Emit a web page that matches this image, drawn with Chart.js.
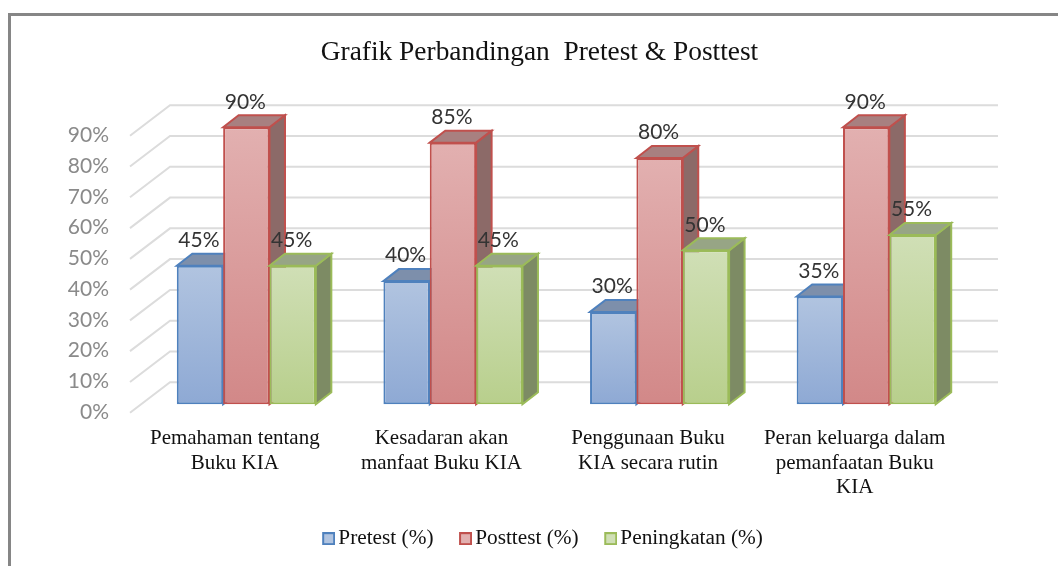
<!DOCTYPE html>
<html>
<head>
<meta charset="utf-8">
<title>Grafik Perbandingan Pretest & Posttest</title>
<script src="https://cdn.jsdelivr.net/npm/chart.js@4"></script>
<style>
    html, body { margin: 0; padding: 0; background: #fff; overflow: hidden; }
    #frame { position: absolute; left: 8px; top: 13px; width: 1100px; height: 600px; border: 3px solid #868686; }
    canvas { position: absolute; left: 0; top: 0; }
</style>
</head>
<body>
<div id="frame"></div>
<canvas id="chart" width="1058" height="566"></canvas>
<script>
const categories = [
    ['Pemahaman tentang', 'Buku KIA'],
    ['Kesadaran akan', 'manfaat Buku KIA'],
    ['Penggunaan Buku', 'KIA secara rutin'],
    ['Peran keluarga dalam', 'pemanfaatan Buku', 'KIA']
];
const pretest = [45, 40, 30, 35];
const posttest = [90, 85, 80, 90];
const peningkatan = [45, 45, 50, 55];

const seriesLabels = ['Pretest (%)', 'Posttest (%)', 'Peningkatan (%)'];
// front top, front bottom, border, top face, side face
const blue = ['#b1c4e0', '#8ea9d4', '#4f81bd', '#7d8fab', '#6a7d9a'];
const red = ['#e2b0b0', '#d28888', '#c0504d', '#a88080', '#8c6a68'];
const green = ['#d0dfb6', '#b8cf8c', '#9bbb59', '#97a585', '#7d8b64'];
const palettes = [blue, red, green];

const SERIF = '"Liberation Serif", serif';
const BAR_DX = 15.5, BAR_DY = -12;   // depth of a bar
const WALL_DX = 40, WALL_DY = -30.5; // depth of the floor/wall

function frontGradient(context, colors) {
    const y = context.chart.scales.y;
    const value = context.dataset.data[context.dataIndex];
    const top = y.getPixelForValue(value);
    const bottom = y.getPixelForValue(0);
    // the legend asks for a style before the scales are laid out
    if (!isFinite(top) || !isFinite(bottom)) return colors[0];
    const g = context.chart.ctx.createLinearGradient(0, top, 0, bottom);
    g.addColorStop(0, colors[0]);
    g.addColorStop(1, colors[1]);
    return g;
}

// 2px empty on the left so the box ends close to the legend text
function legendSwatch(colors) {
    const c = document.createElement('canvas');
    c.width = 15;
    c.height = 13;
    const x = c.getContext('2d');
    x.fillStyle = colors[2];
    x.fillRect(2, 0, 13, 13);
    x.fillStyle = colors[0];
    x.fillRect(4, 2, 9, 9);
    return c;
}
const swatches = palettes.map(legendSwatch);

function face(ctx, pts, fill, stroke) {
    ctx.beginPath();
    ctx.moveTo(pts[0][0], pts[0][1]);
    pts.slice(1).forEach(p => ctx.lineTo(p[0], p[1]));
    ctx.closePath();
    ctx.fillStyle = fill;
    ctx.fill();
    ctx.strokeStyle = stroke;
    ctx.lineWidth = 2;
    ctx.stroke();
}

// grid of the wall and the floor, drawn from the value axis
const wallGrid = {
    id: 'wallGrid',
    afterLayout(chart) {
        // title and legend are not centred on the plot in the original
        chart.titleBlock.left += 24.75;
        chart.titleBlock.right += 24.75;
        chart.legend.left += 30.5;
        chart.legend.right += 30.5;
        chart.legend.top = 497;
    },
    beforeDatasetsDraw(chart) {
        const ctx = chart.ctx;
        const y = chart.scales.y;
        const left = 130;
        const right = 998;
        ctx.save();
        ctx.strokeStyle = '#dcdcdc';
        ctx.lineWidth = 2;
        y.ticks.forEach(t => {
            const py = y.getPixelForValue(t.value);
            ctx.beginPath();
            ctx.moveTo(left, py + 8.5);
            ctx.lineTo(left + WALL_DX, py + 8.5 + WALL_DY);
            ctx.lineTo(right, py + 8.5 + WALL_DY);
            ctx.stroke();
        });
        // boxes go left to right inside a group, so each front covers the previous side
        chart.data.datasets.forEach((ds, i) => {
            const colors = palettes[i];
            chart.getDatasetMeta(i).data.forEach(bar => {
                const p = bar.getProps(['x', 'y', 'base', 'width']);
                const l = p.x - p.width / 2, r = p.x + p.width / 2;
                face(ctx, [[r, p.y], [r + BAR_DX, p.y + BAR_DY], [r + BAR_DX, p.base + BAR_DY], [r, p.base]], colors[4], colors[2]);
                face(ctx, [[l, p.y], [l + BAR_DX, p.y + BAR_DY], [r + BAR_DX, p.y + BAR_DY], [r, p.y]], colors[3], colors[2]);
                bar.draw(ctx, chart.chartArea);
            });
        });
        // value labels
        ctx.font = '21px Lato';
        ctx.fillStyle = '#333333';
        ctx.textAlign = 'center';
        ctx.textBaseline = 'middle';
        chart.data.datasets.forEach((ds, i) => {
            chart.getDatasetMeta(i).data.forEach((bar, j) => {
                ctx.fillText(ds.data[j] + '%', bar.x - 1, bar.y - 25.5);
            });
        });
        ctx.restore();
        return false;
    }
};

new Chart(document.getElementById('chart'), {
    type: 'bar',
    data: {
        labels: categories,
        datasets: [pretest, posttest, peningkatan].map((values, i) => ({
            label: seriesLabels[i],
            data: values,
            backgroundColor: context => frontGradient(context, palettes[i]),
            borderColor: palettes[i][2],
            borderWidth: 2,
            borderSkipped: false
        }))
    },
    options: {
        responsive: false,
        animation: false,
        layout: { padding: { left: 60, right: 88.5, top: 0, bottom: 0 } },
        datasets: { bar: { barPercentage: 1, categoryPercentage: 0.673 } },
        scales: {
            x: {
                grid: { display: false },
                border: { display: false },
                afterFit(scale) { scale.height = 99.5; },
                ticks: {
                    autoSkip: false,
                    maxRotation: 0,
                    padding: 14,
                    labelOffset: -11.5,
                    color: '#111111',
                    font: { family: SERIF, size: 21, lineHeight: 1.17 }
                }
            },
            y: {
                min: 0,
                max: 90,
                grid: { display: false },
                border: { display: false },
                afterFit(scale) { scale.width = 83; },
                ticks: {
                    stepSize: 10,
                    padding: 26,
                    labelOffset: 8,
                    color: '#8a8a8a',
                    font: { family: 'Lato', size: 21 },
                    callback: v => v + '%'
                }
            }
        },
        plugins: {
            tooltip: { enabled: false },
            title: {
                display: true,
                text: 'Grafik Perbandingan  Pretest & Posttest',
                color: '#111111',
                font: { family: SERIF, size: 27.4, weight: 'normal', lineHeight: 1.2 },
                padding: { top: 36.6, bottom: 57.8 }
            },
            legend: {
                position: 'bottom',
                labels: {
                    usePointStyle: true,
                    boxWidth: 0.01,
                    padding: 31,
                    color: '#111111',
                    font: { family: SERIF, size: 21.3 },
                    generateLabels(chart) {
                        const items = Chart.defaults.plugins.legend.labels.generateLabels(chart);
                        items.forEach((item, i) => { item.pointStyle = swatches[i]; });
                        return items;
                    }
                }
            }
        }
    },
    plugins: [wallGrid]
});
</script>
</body>
</html>
